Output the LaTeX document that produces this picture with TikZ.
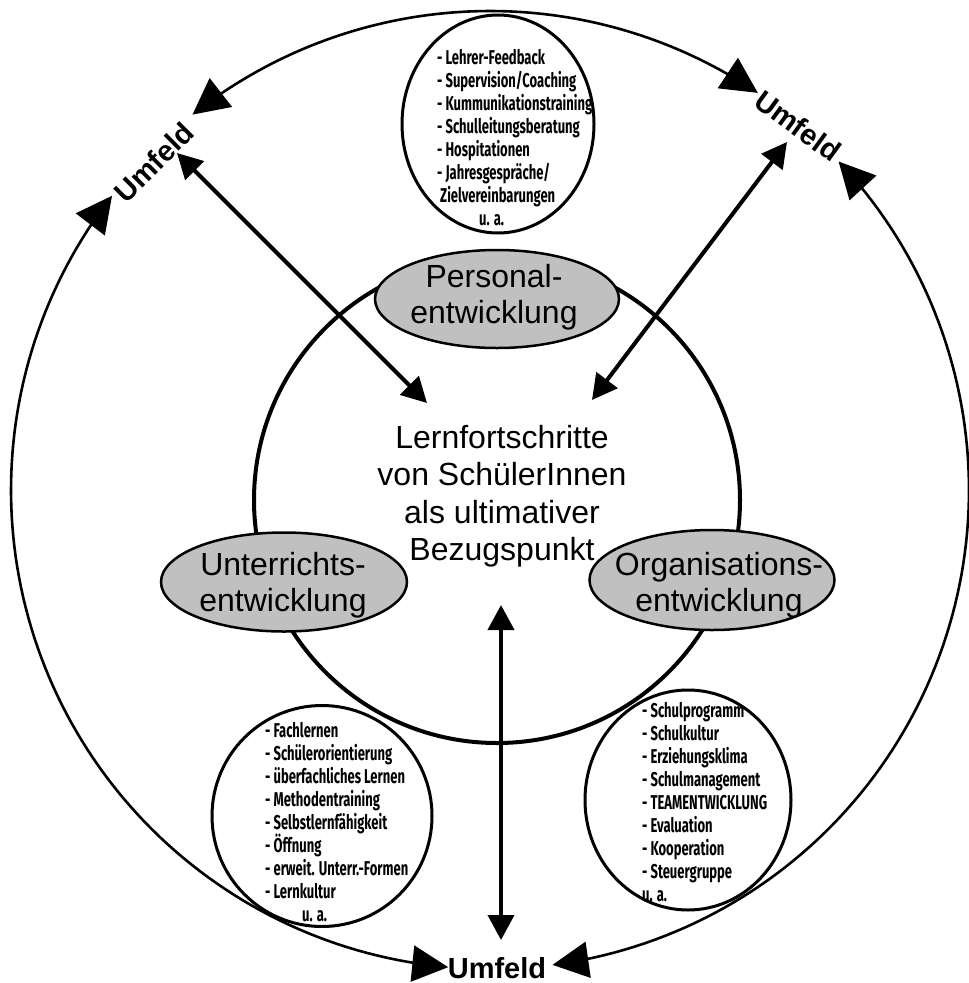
\documentclass[tikz,border=0pt]{standalone}
\usepackage{fontspec}
\setmainfont{Liberation Sans}
\newfontfamily\listfont[FakeStretch=0.65]{Fira Sans}
\usetikzlibrary{arrows.meta,shapes.geometric}
\definecolor{fieldgray}{RGB}{192,192,192}

\begin{document}
\begin{tikzpicture}[x=1pt,y=-1pt,
  outerarc/.style={line width=2.6pt,
    {Triangle[length=36pt,width=36pt]}-{Triangle[length=36pt,width=36pt]}},
  link/.style={line width=4pt,
    {Triangle[length=25pt,width=26pt]}-{Triangle[length=25pt,width=26pt]}},
  core/.style={circle, draw, line width=4pt, minimum size=486pt, inner sep=0pt},
  fieldellipse/.style={ellipse, draw, line width=2.5pt, fill=fieldgray, inner sep=0pt},
  listring/.style={ellipse, draw, line width=3pt, inner sep=0pt},
  listtext/.style={inner sep=0pt, align=left, anchor=north west,
    font=\listfont\bfseries\fontsize{20}{23}\selectfont},
  maintext/.style={inner sep=0pt, align=center, anchor=north,
    font=\fontsize{32}{37.5}\selectfont},
  fieldtext/.style={inner sep=0pt, align=center, anchor=north,
    font=\fontsize{32}{36}\selectfont},
  umfeldtext/.style={inner sep=0pt, font=\bfseries\fontsize{29}{32}\selectfont}]

\useasboundingbox (0,0) rectangle (969,983);

% surrounding field: three arcs of one large circle
\coordinate (oc) at (490,490);
\coordinate (arcTL) at ({490+479*cos(231.6)},{490+479*sin(231.6)});
\coordinate (arcTR) at ({490+479*cos(304)},{490+479*sin(304)});
\coordinate (arcRT) at ({490+479*cos(316.7)},{490+479*sin(316.7)});
\coordinate (arcRB) at ({490+479*cos(82.5)},{490+479*sin(82.5)});
\coordinate (arcLB) at ({490+479*cos(95)},{490+479*sin(95)});
\coordinate (arcLT) at ({490+479*cos(217.9)},{490+479*sin(217.9)});
\draw[outerarc] plot[domain=231.6:304, samples=80, variable=\t]
  ({490+479*cos(\t)},{490+479*sin(\t)});
\draw[outerarc] plot[domain=-43.3:82.5, samples=100, variable=\t]
  ({490+479*cos(\t)},{490+479*sin(\t)});
\draw[outerarc] plot[domain=217.9:95, samples=100, variable=\t]
  ({490+479*cos(\t)},{490+479*sin(\t)});

% Umfeld labels
\node[umfeldtext, rotate=45] (umTL) at (154,162) {Umfeld};
\node[umfeldtext, rotate=-36] (umTR) at (798,126) {Umfeld};
\node[umfeldtext] (umB) at (497,968) {Umfeld};

% central circle
\node[core] (core) at (497,500) {};

% circles with lists of measures
\node[listring, minimum width=192pt, minimum height=218pt] (ringP) at (498,124) {};
\node[listring, minimum width=220pt, minimum height=221pt] (ringU) at (322,816) {};
\node[listring, minimum width=206pt, minimum height=220pt] (ringO) at (688,800) {};

\node[listtext] (listP) at (437,49) {- Lehrer-Feedback\\
- Supervision/Coaching\\
- Kummunikationstraining\\
- Schulleitungsberatung\\
- Hospitationen\\
- Jahresgespräche/\\
\hspace*{3pt}Zielvereinbarungen\\
\hspace*{42pt}u. a.};

\node[listtext] (listU) at (265,722) {- Fachlernen\\
- Schülerorientierung\\
- überfachliches Lernen\\
- Methodentraining\\
- Selbstlernfähigkeit\\
- Öffnung\\
- erweit. Unterr.-Formen\\
- Lernkultur\\
\hspace*{37pt}u. a.};

\node[listtext] (listO) at (642,702) {- Schulprogramm\\
- Schulkultur\\
- Erziehungsklima\\
- Schulmanagement\\
- TEAMENTWICKLUNG\\
- Evaluation\\
- Kooperation\\
- Steuergruppe\\
u. a.};

% the three fields of development
\node[fieldellipse, minimum width=244pt, minimum height=98pt] (pe) at (497,299) {};
\node[fieldellipse, minimum width=246pt, minimum height=99pt] (ue) at (284,582) {};
\node[fieldellipse, minimum width=245pt, minimum height=100pt] (oe) at (712,580) {};
\node[fieldtext] (peT) at (494,264) {Personal-\\entwicklung};
\node[fieldtext] (ueT) at (283,552) {Unterrichts-\\entwicklung};
\node[fieldtext] (oeT) at (719,552) {Organisations-\\entwicklung};

% centre statement
\node[maintext] (goal) at (502,425) {Lernfortschritte\\von SchülerInnen\\als ultimativer\\Bezugspunkt};

% links between the field and the centre
\coordinate (lA) at (177,153);
\coordinate (lB) at (427,403);
\coordinate (rA) at (787,142);
\coordinate (rB) at (592,400);
\coordinate (vA) at (501,605);
\coordinate (vB) at (501,940);
\draw[link] (lA) -- (lB);
\draw[link] (rA) -- (rB);
\draw[link] (vA) -- (vB);
\end{tikzpicture}
\end{document}
